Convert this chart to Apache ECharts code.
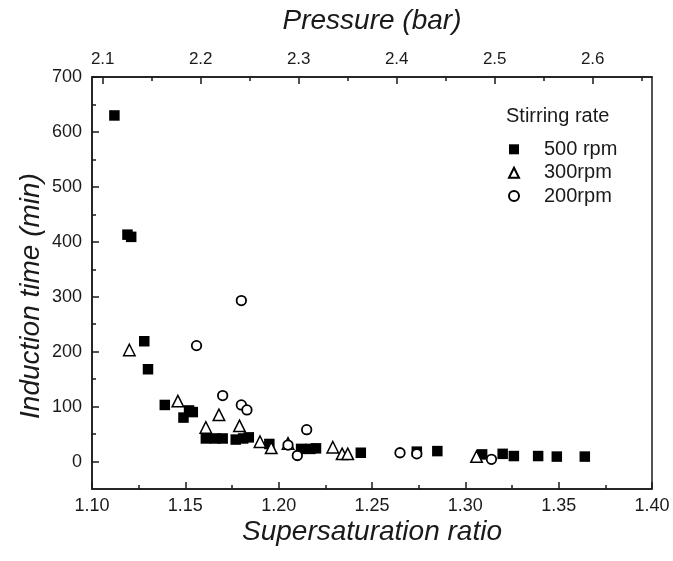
<!DOCTYPE html>
<html>
<head>
<meta charset="utf-8">
<script src="https://cdn.jsdelivr.net/npm/echarts@6/dist/echarts.min.js"></script>
<style>
  html, body { margin: 0; padding: 0; background: #fff; }
  #chartmain { width: 673px; height: 561px; }
</style>
</head>
<body>
<div id="chartmain"></div>
<script>
// data: [supersaturation ratio, induction time (min)]
var rpm500 = [
  [1.112, 630], [1.119, 413], [1.121, 409], [1.128, 219], [1.130, 168],
  [1.139, 103], [1.149, 80], [1.152, 93], [1.154, 90], [1.161, 42],
  [1.166, 42], [1.170, 42], [1.177, 40], [1.181, 42], [1.184, 44],
  [1.195, 32], [1.212, 23], [1.217, 23], [1.220, 24], [1.244, 16],
  [1.274, 18], [1.285, 19], [1.309, 13], [1.320, 14], [1.326, 10],
  [1.339, 10], [1.349, 9], [1.364, 9]
];
var rpm300 = [
  [1.120, 203], [1.146, 110], [1.161, 62], [1.168, 85], [1.179, 65],
  [1.190, 36], [1.196, 25], [1.205, 33], [1.229, 26], [1.234, 14],
  [1.237, 14], [1.306, 9]
];
var rpm200 = [
  [1.156, 211], [1.170, 120], [1.180, 293], [1.180, 103], [1.183, 94],
  [1.205, 30], [1.210, 11], [1.215, 58], [1.265, 16], [1.274, 14],
  [1.314, 4]
];
var seriesNames = ['500 rpm', '300rpm', '200rpm'];
var pressureLabels = [2.1, 2.2, 2.3, 2.4, 2.5, 2.6];
var pressureMinor = [2.15, 2.25, 2.35, 2.45, 2.55, 2.65];
var timeLabels = [0, 100, 200, 300, 400, 500, 600, 700];
var timeMinor = [50, 150, 250, 350, 450, 550, 650];

var font = "'Liberation Sans', Arial, sans-serif";
var ink = '#1a1a1a';
var tickLine = { color: ink, width: 1.5 };

var myChart = echarts.init(document.getElementById('chartmain'));

var option = {
  animation: false,
  grid: {
    left: 92, right: 21, top: 77, bottom: 72,
    show: true, borderColor: ink, borderWidth: 1.5, backgroundColor: 'transparent'
  },
  xAxis: [{
    type: 'value', position: 'bottom',
    min: 1.10, max: 1.40, interval: 0.05,
    axisLine: { show: true, onZero: false, lineStyle: tickLine },
    axisTick: { show: true, inside: true, length: 7, lineStyle: tickLine },
    minorTick: { show: true, splitNumber: 2, length: 4, lineStyle: tickLine },
    splitLine: { show: false },
    axisLabel: { color: ink, fontSize: 18, fontFamily: font, margin: 8,
      formatter: function (v) { return v.toFixed(2); } }
  }, {
    type: 'value', position: 'top',
    min: 2.08908, max: 2.66051,
    axisLine: { show: true, onZero: false, lineStyle: tickLine },
    axisTick: { show: true, inside: true, length: 7, customValues: pressureLabels, lineStyle: tickLine },
    splitLine: { show: false },
    axisLabel: { color: ink, fontSize: 17, fontFamily: font, margin: 9,
      customValues: pressureLabels,
      formatter: function (v) { return v.toFixed(1); } }
  }, {
    type: 'value', position: 'top',
    min: 2.08908, max: 2.66051,
    axisLine: { show: false, onZero: false },
    axisTick: { show: true, inside: true, length: 4, customValues: pressureMinor, lineStyle: tickLine },
    splitLine: { show: false },
    axisLabel: { show: false }
  }],
  yAxis: [{
    type: 'value', position: 'left',
    min: -50, max: 700,
    axisLine: { show: true, onZero: false, lineStyle: tickLine },
    axisTick: { show: true, inside: true, length: 7, customValues: timeLabels, lineStyle: tickLine },
    splitLine: { show: false },
    axisLabel: { color: ink, fontSize: 18, fontFamily: font, margin: 10,
      customValues: timeLabels }
  }, {
    type: 'value', position: 'left',
    min: -50, max: 700,
    axisLine: { show: false, onZero: false },
    axisTick: { show: true, inside: true, length: 4, customValues: timeMinor, lineStyle: tickLine },
    splitLine: { show: false },
    axisLabel: { show: false }
  }],
  legend: {
    orient: 'vertical', left: 508, top: 139.3, padding: 0,
    itemWidth: 10, itemHeight: 10, itemGap: 3.4,
    data: seriesNames,
    textStyle: { color: ink, fontSize: 20, fontFamily: font, lineHeight: 20, padding: [0, 0, 0, 20] }
  },
  graphic: [{
    type: 'text', left: 506, top: 106,
    style: { text: 'Stirring rate', fill: ink, font: '20px ' + font }
  }, {
    type: 'text', x: 372, y: 21,
    style: { text: 'Pressure (bar)', fill: ink, font: 'italic 28px ' + font,
      align: 'center', verticalAlign: 'middle' }
  }, {
    type: 'text', x: 372, y: 532,
    style: { text: 'Supersaturation ratio', fill: ink, font: 'italic 28px ' + font,
      align: 'center', verticalAlign: 'middle' }
  }, {
    type: 'text', x: 31, y: 296, rotation: Math.PI / 2,
    style: { text: 'Induction time (min)', fill: ink, font: 'italic 28px ' + font,
      align: 'center', verticalAlign: 'middle' }
  }],
  series: [{
    name: seriesNames[0], type: 'scatter', data: rpm500,
    symbol: 'rect', symbolSize: 10.5,
    itemStyle: { color: '#000', opacity: 1 }
  }, {
    name: seriesNames[1], type: 'scatter', data: rpm300,
    symbol: 'triangle', symbolSize: 11.5,
    itemStyle: { color: '#fff', borderColor: '#000', borderWidth: 1.5, opacity: 1 }
  }, {
    name: seriesNames[2], type: 'scatter', data: rpm200,
    symbol: 'circle', symbolSize: 9.5,
    itemStyle: { color: '#fff', borderColor: '#000', borderWidth: 1.8, opacity: 1 }
  }]
};

myChart.setOption(option);
</script>
</body>
</html>
